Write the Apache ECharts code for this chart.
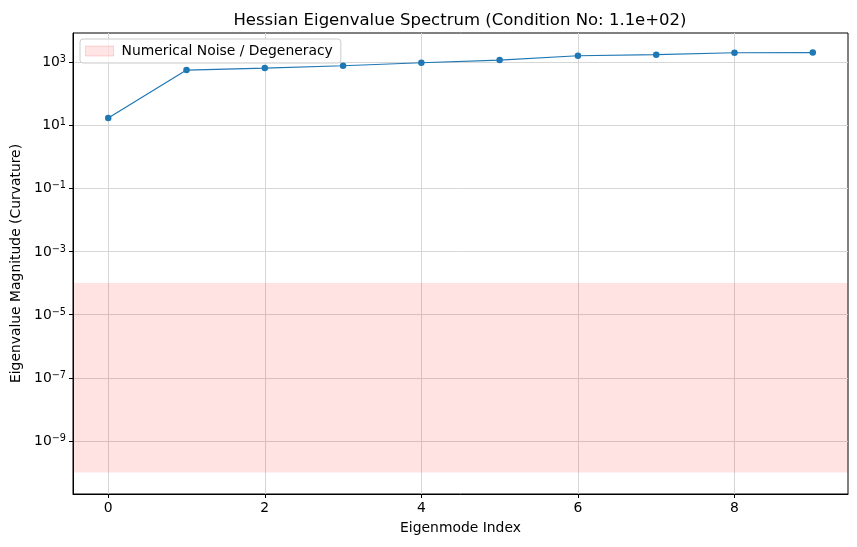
<!DOCTYPE html>
<html>
<head>
<meta charset="utf-8">
<script src="https://cdn.jsdelivr.net/npm/echarts@6/dist/echarts.min.js"></script>
<style>
  html, body { margin: 0; padding: 0; background: #fff; }
  #chart { width: 857px; height: 547px; }
</style>
</head>
<body>
<div id="chart"></div>
<script>
// eigenmode index and eigenvalue magnitudes
var modeIndex = [0, 1, 2, 3, 4, 5, 6, 7, 8, 9];
var eigenValues = [17, 557, 645, 763, 950, 1157, 1585, 1708, 1973, 2000];
// noise band limits
var noiseBand = [1e-10, 1e-4];
// tick labels
var xTicks = [0, 2, 4, 6, 8];
var yTicks = [1e-9, 1e-7, 1e-5, 1e-3, 1e-1, 1e1, 1e3];

// 10^n label as rich text
function powLabel(v) {
  var e = Math.round(Math.log10(v));
  var s = e < 0 ? '\u2212' + (-e) : String(e);
  return '{b|10}{s|' + s + '}';
}

var points = [];
for (var i = 0; i < modeIndex.length; i++) {
  points.push([modeIndex[i], eigenValues[i]]);
}

var font = 'DejaVu Sans';
var myChart = echarts.init(document.getElementById('chart'));
var option = {
  animation: false,
  backgroundColor: '#fff',
  textStyle: { fontFamily: font },
  title: {
    text: 'Hessian Eigenvalue Spectrum (Condition No: 1.1e+02)',
    left: 455, top: 7, textAlign: 'center',
    textStyle: { fontFamily: font, fontSize: 16.5, fontWeight: 'normal', color: '#000' }
  },
  legend: {
    data: [{ name: 'Numerical Noise / Degeneracy', icon: 'rect',
      itemStyle: { color: 'rgba(255,0,0,0.1)', borderColor: 'rgba(255,0,0,0.15)', borderWidth: 1 } }],
    left: 80, top: 39,
    itemWidth: 28, itemHeight: 10, itemGap: 10,
    padding: [5, 8, 5, 5],
    backgroundColor: 'rgba(255,255,255,0.8)',
    borderColor: '#cccccc', borderWidth: 1, borderRadius: 3,
    textStyle: { fontFamily: font, fontSize: 13.9, color: '#000', padding: [0, 0, 0, 3] }
  },
  grid: {
    left: 73, right: 9, top: 33, bottom: 53,
    show: true, borderColor: '#000', borderWidth: 1, backgroundColor: 'transparent'
  },
  xAxis: {
    type: 'value',
    min: -0.45, max: 9.45,
    name: 'Eigenmode Index', nameLocation: 'middle', nameGap: 27,
    nameTextStyle: { fontFamily: font, fontSize: 13.9, color: '#000' },
    axisLine: { show: true, onZero: false, lineStyle: { color: '#000' } },
    axisTick: { show: true, length: 4, customValues: xTicks, lineStyle: { color: '#000' } },
    axisLabel: { customValues: xTicks, margin: 7, fontFamily: font, fontSize: 13.9, color: '#000' },
    splitLine: { show: true, lineStyle: { color: '#d6d6d6', width: 1 } }
  },
  yAxis: {
    type: 'log', logBase: 10,
    min: Math.pow(10, -10.68), max: Math.pow(10, 3.92),
    name: 'Eigenvalue Magnitude (Curvature)', nameLocation: 'middle', nameGap: 48,
    nameTextStyle: { fontFamily: font, fontSize: 13.9, color: '#000' },
    axisLine: { show: true, onZero: false, lineStyle: { color: '#000' } },
    axisTick: { show: true, length: 4, customValues: yTicks, lineStyle: { color: '#000' } },
    axisLabel: {
      customValues: yTicks, margin: 7, color: '#000',
      formatter: function (v) { return powLabel(v); },
      rich: {
        b: { fontFamily: font, fontSize: 13.9, color: '#000', lineHeight: 15, verticalAlign: 'bottom', padding: [3, 0, 0, 0] },
        s: { fontFamily: font, fontSize: 9.7, color: '#000', lineHeight: 15, verticalAlign: 'top' }
      }
    },
    splitLine: { show: true, lineStyle: { color: '#d6d6d6', width: 1 } }
  },
  series: [
    {
      name: 'Numerical Noise / Degeneracy',
      type: 'line',
      data: [],
      itemStyle: { color: 'rgba(255,0,0,0.1)' },
      markArea: {
        silent: true,
        itemStyle: { color: 'rgba(255,0,0,0.11)' },
        data: [[{ yAxis: noiseBand[0] }, { yAxis: noiseBand[1] }]]
      }
    },
    {
      name: 'eigenvalues',
      type: 'line',
      data: points,
      symbol: 'circle', symbolSize: 6.5,
      lineStyle: { color: '#1f77b4', width: 1.2 },
      itemStyle: { color: '#1f77b4' },
      z: 5
    }
  ]
};
myChart.setOption(option);
</script>
</body>
</html>
